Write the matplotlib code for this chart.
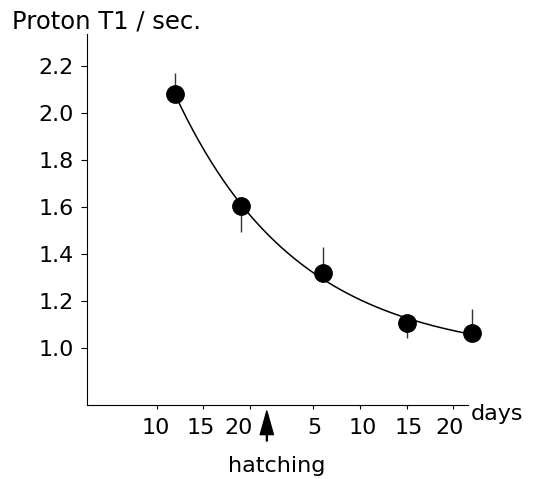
"""
Proton T1 relaxation time vs. age, before and after hatching.
"""

import matplotlib
matplotlib.use("Agg")
import matplotlib.pyplot as plt
import matplotlib.transforms as mtransforms
import numpy as np

# ---------------------------------------------------------------------------
# data
# ---------------------------------------------------------------------------
HATCH_AGE = 21.8                      # age axis position of hatching
EMBRYO_DAYS = [12, 19]                # days of incubation
POSTHATCH_DAYS = [6, 15, 22]          # days after hatching
T1_VALUES = [2.08, 1.605, 1.318, 1.105, 1.065]
ERR_LOWER = [0.0, 0.11, 0.0, 0.064, 0.0]
ERR_UPPER = [0.09, 0.0, 0.11, 0.0, 0.10]

PRE_TICKS = [10, 15, 20]
POST_TICKS = [5, 10, 15, 20]
Y_TICKS = [1.0, 1.2, 1.4, 1.6, 1.8, 2.0, 2.2]

# tick labels in the original are not centred on their ticks (pixels)
XLABEL_SHIFT = [-1, -3, -11, 1, 3, 2, -4]

FONT = "DejaVu Sans"


def _fit_decay(x, y):
    # y = c + b * exp(-k x), c picked by a small grid search
    best = None
    for c in np.linspace(0.0, min(y) - 0.005, 400):
        k_neg, ln_b = np.polyfit(x, np.log(y - c), 1)
        res = np.sum((c + np.exp(ln_b + k_neg * x) - y) ** 2)
        if best is None or res < best[0]:
            best = (res, c, ln_b, k_neg)
    _, c, ln_b, k_neg = best
    return lambda t: c + np.exp(ln_b + k_neg * t)


def main():
    plt.rcParams["font.family"] = [FONT]

    age = np.array(EMBRYO_DAYS + [HATCH_AGE + d for d in POSTHATCH_DAYS], float)
    t1 = np.array(T1_VALUES)

    fig = plt.figure(figsize=(5.34, 4.79), dpi=100)
    ax = fig.add_axes([87 / 534, 1 - 405 / 479, 381 / 534, 371 / 479])

    curve = _fit_decay(age, t1)
    xs = np.linspace(age[0], age[-1], 200)
    ax.plot(xs, curve(xs), color="black", linewidth=1.1, clip_on=False, zorder=2)

    ax.errorbar(age, t1, yerr=[ERR_LOWER, ERR_UPPER], fmt="none",
                ecolor="#333333", elinewidth=1.0, capsize=0,
                clip_on=False, zorder=1)
    ax.plot(age, t1, "o", color="black", markersize=12.5,
            clip_on=False, zorder=3)

    ax.set_xlim(2.53, 43.36)
    ax.set_ylim(0.757, 2.336)

    xticks = PRE_TICKS + [HATCH_AGE + d for d in POST_TICKS]
    ax.set_xticks(xticks)
    ax.set_xticklabels([str(v) for v in PRE_TICKS + POST_TICKS])
    ax.set_yticks(Y_TICKS)
    ax.set_yticklabels([f"{v:.1f}" for v in Y_TICKS])

    for side in ("top", "right"):
        ax.spines[side].set_visible(False)
    for side in ("left", "bottom"):
        ax.spines[side].set_linewidth(0.8)

    ax.tick_params(axis="y", direction="out", length=4.5, width=0.8,
                   pad=5, labelsize=16)
    ax.tick_params(axis="x", direction="out", length=3, width=0.8,
                   pad=6, labelsize=16)

    for lab, dx in zip(ax.get_xticklabels(), XLABEL_SHIFT):
        off = mtransforms.ScaledTranslation(dx / 100, 0, fig.dpi_scale_trans)
        lab.set_transform(lab.get_transform() + off)

    # hatching marker
    ax.annotate("", xy=(HATCH_AGE, 479 - 411), xycoords=("data", "figure pixels"),
                xytext=(HATCH_AGE, 479 - 441), textcoords=("data", "figure pixels"),
                arrowprops=dict(facecolor="black", edgecolor="black", width=0.6,
                                headwidth=9.5, headlength=17, shrink=0),
                annotation_clip=False)

    fig.text(12 / 534, 1 - 28.5 / 479, "Proton T1 / sec.", fontsize=17.5,
             va="baseline", ha="left")
    fig.text(277 / 534, 1 - 472 / 479, "hatching", fontsize=16,
             va="baseline", ha="center")
    fig.text(471 / 534, 1 - 420 / 479, "days", fontsize=16,
             va="baseline", ha="left")

    fig.savefig("out.png", dpi=100, facecolor="white")
    plt.close(fig)


if __name__ == "__main__":
    main()
